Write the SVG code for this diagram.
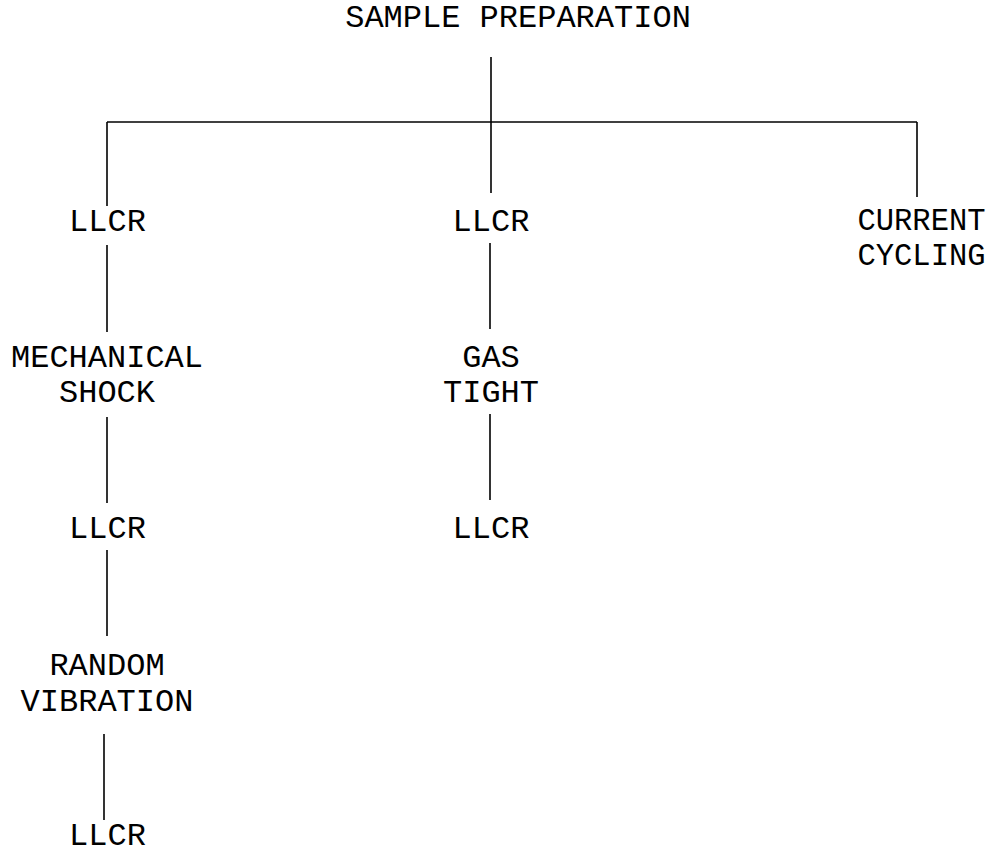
<svg xmlns="http://www.w3.org/2000/svg" width="997" height="855" viewBox="0 0 997 855">
<style>
text{font-family:"Liberation Mono","Courier New",monospace;font-size:32px;fill:#000;text-anchor:middle}
.sm{font-size:30.5px}
line{stroke:#000;stroke-width:1.6}
</style>
<rect width="997" height="855" fill="#fff"/>
<g id="connectors">
<line x1="491" y1="57" x2="491" y2="193"/>
<line x1="107" y1="122" x2="917" y2="122"/>
<line x1="107" y1="122" x2="107" y2="206"/>
<line x1="917" y1="122" x2="917" y2="197"/>
<line x1="107" y1="245" x2="107" y2="332"/>
<line x1="107" y1="417" x2="107" y2="503"/>
<line x1="107" y1="550" x2="107" y2="636"/>
<line x1="104" y1="734" x2="104" y2="820"/>
<line x1="490" y1="243" x2="490" y2="329"/>
<line x1="490" y1="414" x2="490" y2="500"/>
</g>
<g id="root"><text x="518" y="27">SAMPLE PREPARATION</text></g>
<g id="llcr1"><text x="107.5" y="231">LLCR</text></g>
<g id="mech"><text x="107" y="367">MECHANICAL</text><text x="107" y="402">SHOCK</text></g>
<g id="llcr2"><text x="107.5" y="538">LLCR</text></g>
<g id="random"><text x="107" y="675">RANDOM</text><text x="107" y="711">VIBRATION</text></g>
<g id="llcr3"><text x="107.5" y="845">LLCR</text></g>
<g id="llcr4"><text x="491" y="231">LLCR</text></g>
<g id="gas"><text x="491" y="367">GAS</text><text x="491" y="402">TIGHT</text></g>
<g id="llcr5"><text x="491" y="538">LLCR</text></g>
<g id="current"><text class="sm" x="921.5" y="230">CURRENT</text><text class="sm" x="921.5" y="265">CYCLING</text></g>
</svg>
